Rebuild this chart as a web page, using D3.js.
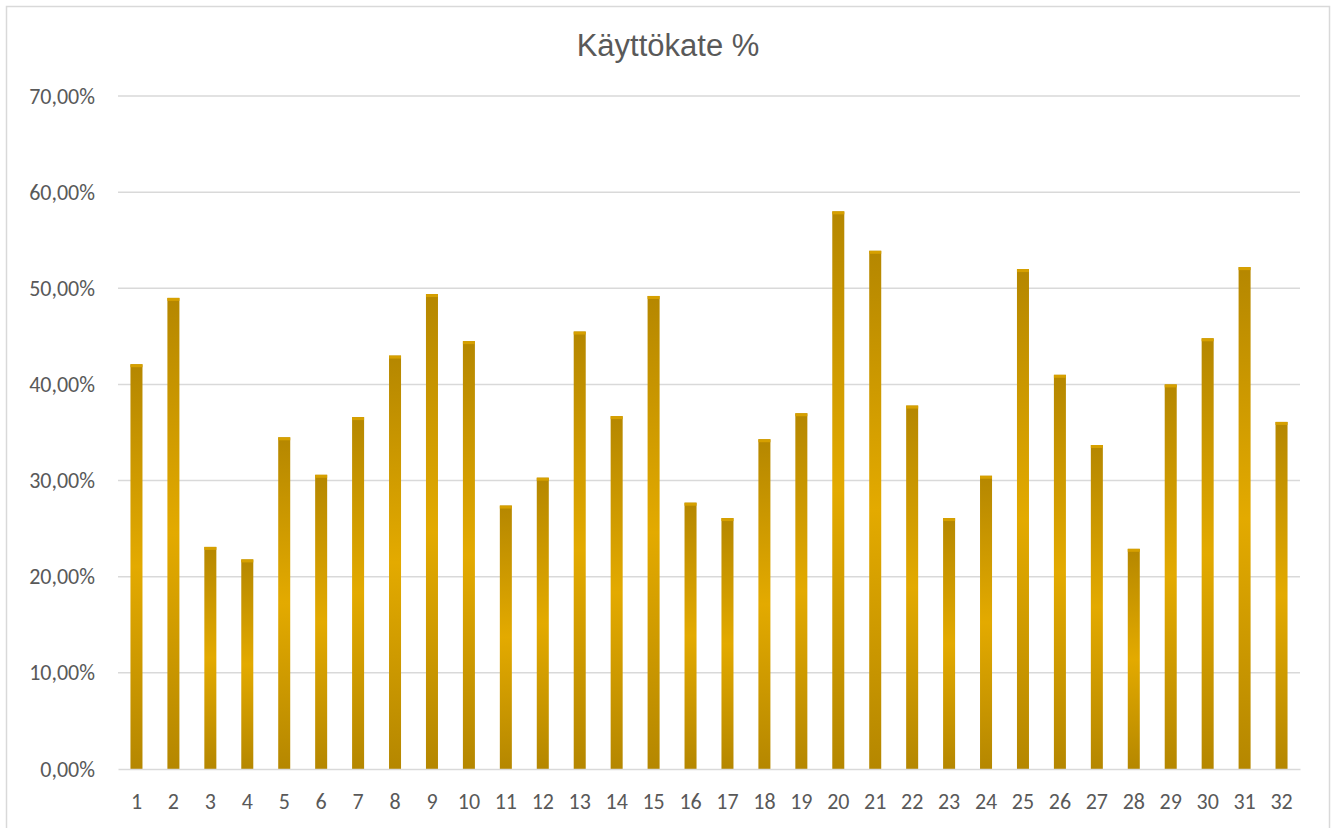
<!DOCTYPE html>
<html>
<head>
<meta charset="utf-8">
<script src="https://cdn.jsdelivr.net/npm/d3@7"></script>
<style>
  body { margin: 0; background: #fff; }
  text { fill: #595959; }
</style>
</head>
<body>
<div id="chart"></div>
<script>
// data
var categories = d3.range(1, 33).map(String);
var values = [42.1, 49.0, 23.1, 21.8, 34.5, 30.6, 36.6, 43.0, 49.4, 44.5,
              27.4, 30.3, 45.5, 36.7, 49.2, 27.7, 26.1, 34.3, 37.0, 58.0,
              53.9, 37.8, 26.1, 30.5, 52.0, 41.0, 33.7, 22.9, 40.0, 44.8,
              52.2, 36.1];
var yTicks = [0, 10, 20, 30, 40, 50, 60, 70];
var title = "Käyttökate %";

var W = 1335, H = 828;
var margin = {top: 96, right: 35, bottom: 59, left: 118},
    width = W - margin.left - margin.right,
    height = H - margin.top - margin.bottom;

var svg = d3.select("#chart").append("svg")
    .attr("width", W)
    .attr("height", H);

// chart border
svg.append("rect")
    .attr("x", 6.5).attr("y", 6.5)
    .attr("width", 1323).attr("height", 840)
    .style("fill", "none")
    .style("stroke", "#d9d9d9")
    .style("stroke-width", 1.5);

// gradient for the bars: dark at the ends, bright in the middle
var grad = svg.append("defs").append("linearGradient")
    .attr("id", "gold")
    .attr("x1", 0).attr("y1", 0).attr("x2", 0).attr("y2", 1);
grad.append("stop").attr("offset", "0%").attr("stop-color", "#b58700");
grad.append("stop").attr("offset", "50%").attr("stop-color", "#e3aa00");
grad.append("stop").attr("offset", "100%").attr("stop-color", "#b58700");

var g = svg.append("g")
    .attr("transform", "translate(" + margin.left + "," + margin.top + ")");

var x = d3.scaleBand()
    .domain(categories)
    .range([0, width])
    .paddingInner(0.675)
    .paddingOuter(0.3375);

var y = d3.scaleLinear()
    .domain([0, 70])
    .range([height, 0]);

// gridlines
g.append("g")
  .selectAll("line")
  .data(yTicks.slice(1))
  .enter().append("line")
    .attr("x1", 0).attr("x2", width)
    .attr("y1", d => y(d)).attr("y2", d => y(d))
    .style("stroke", "#d9d9d9")
    .style("stroke-width", 1.5);

// Y axis labels
var yAxis = g.append("g")
    .call(d3.axisLeft(y).tickValues(yTicks)
      .tickSize(0).tickPadding(23)
      .tickFormat(d => d3.format(".2f")(d).replace(".", ",") + "%"));
yAxis.select(".domain").remove();
yAxis.selectAll("text")
    .style("font-family", "Carlito, Lato, 'Open Sans', sans-serif")
    .style("font-size", "22px")
    .style("fill", "#595959");

// bars
var bars = g.append("g");
bars.selectAll("rect.bar")
  .data(values)
  .enter().append("rect")
    .attr("class", "bar")
    .attr("x", (d, i) => x(categories[i]))
    .attr("y", d => y(d))
    .attr("width", x.bandwidth())
    .attr("height", d => height - y(d))
    .style("fill", "url(#gold)");

// lighter cap on top of each bar
bars.selectAll("rect.cap")
  .data(values)
  .enter().append("rect")
    .attr("class", "cap")
    .attr("x", (d, i) => x(categories[i]))
    .attr("y", d => y(d))
    .attr("width", x.bandwidth())
    .attr("height", 3)
    .style("fill", "#d6a000");

// X axis
var xAxis = g.append("g")
    .attr("transform", "translate(0," + height + ")")
    .call(d3.axisBottom(x).tickSize(0).tickPadding(24));
xAxis.select(".domain")
    .style("stroke", "#d9d9d9")
    .style("stroke-width", 1.5);
xAxis.selectAll("text")
    .style("font-family", "Carlito, Lato, 'Open Sans', sans-serif")
    .style("font-size", "22px")
    .style("fill", "#595959");

// title
svg.append("text")
    .attr("x", 668)
    .attr("y", 56)
    .style("text-anchor", "middle")
    .style("font-family", "'Liberation Sans', Arial, sans-serif")
    .style("font-size", "31px")
    .style("fill", "#595959")
    .text(title);
</script>
</body>
</html>
